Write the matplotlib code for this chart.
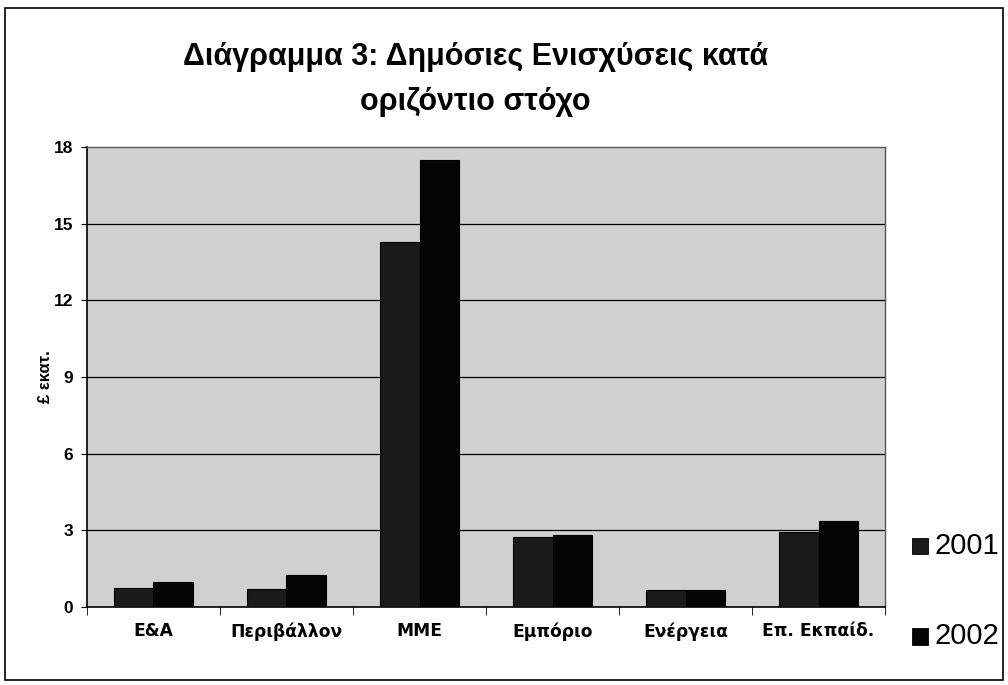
import matplotlib
matplotlib.use("Agg")
import matplotlib.pyplot as plt
import numpy as np
from matplotlib.patches import Rectangle

categories = ["Ε&Α", "Περιβάλλον", "ΜΜΕ", "Εμπόριο", "Ενέργεια", "Επ. Εκπαίδ."]
values_2001 = [0.75, 0.7, 14.3, 2.75, 0.68, 2.95]
values_2002 = [0.98, 1.25, 17.5, 2.83, 0.68, 3.38]
series_labels = ["2001", "2002"]
yticks = [0, 3, 6, 9, 12, 15, 18]
title = "Διάγραμμα 3: Δημόσιες Ενισχύσεις κατά\nοριζόντιο στόχο"
ylabel = "£ εκατ."

plt.rcParams['font.family'] = ['Liberation Sans', 'DejaVu Sans']

fig = plt.figure(figsize=(10.08, 6.85), dpi=100)
fig.patch.set_facecolor('white')
fig.add_artist(Rectangle((0.005, 0.007), 0.99, 0.982, transform=fig.transFigure,
                         fill=False, edgecolor='black', linewidth=1.2))

ax = fig.add_axes([0.0863, 0.1139, 0.7917, 0.6715])
ax.set_facecolor('#d0d0d0')

x = np.arange(len(categories))
w = 0.3
ax.bar(x - w/2, values_2001, w, color='#1a1a1a', edgecolor='black', linewidth=0.8, zorder=3,
       label=series_labels[0])
ax.bar(x + w/2, values_2002, w, color='#050505', edgecolor='black', linewidth=0.8, zorder=3,
       label=series_labels[1])

ax.set_xlim(-0.5, len(categories) - 0.5)
ax.set_ylim(0, 18)
ax.set_yticks(yticks)
ax.set_yticklabels([str(t) for t in yticks], fontsize=12.5, fontweight='bold')
for t in yticks[1:-1]:
    ax.axhline(t, color='black', linewidth=0.9, zorder=1)

ax.set_xticks(x)
ax.set_xticklabels(categories, fontsize=12.3, fontweight='bold', family='DejaVu Sans')
ax.tick_params(axis='x', length=0, pad=11)
ax.set_xticks(np.arange(-0.5, len(categories), 1), minor=True)
ax.tick_params(axis='x', which='minor', length=6, direction='out', color='black')
ax.tick_params(axis='y', length=4, direction='out', pad=6)

for s in ['top', 'right']:
    ax.spines[s].set_linestyle((0, (1, 1)))
    ax.spines[s].set_color('#555555')
    ax.spines[s].set_linewidth(1.0)
ax.spines['left'].set_linewidth(1.2)
ax.spines['bottom'].set_linewidth(1.2)

ax.set_ylabel(ylabel, fontsize=12, fontweight='bold')
ax.yaxis.set_label_coords(-0.043, 0.5)

fig.text(0.472, 0.884, title, ha='center', va='center', fontsize=22, fontweight='bold',
         linespacing=1.62)

# legend
leg_items = [(series_labels[0], '#1a1a1a', 0.203), (series_labels[1], '#050505', 0.071)]
for lab, col, yy in leg_items:
    fig.add_artist(Rectangle((0.905, yy - 0.012), 0.016, 0.024, transform=fig.transFigure,
                             facecolor=col, edgecolor='black', linewidth=0.6))
    fig.text(0.927, yy, lab, ha='left', va='center', fontsize=21)

fig.savefig('out.png', dpi=100, facecolor='white')
